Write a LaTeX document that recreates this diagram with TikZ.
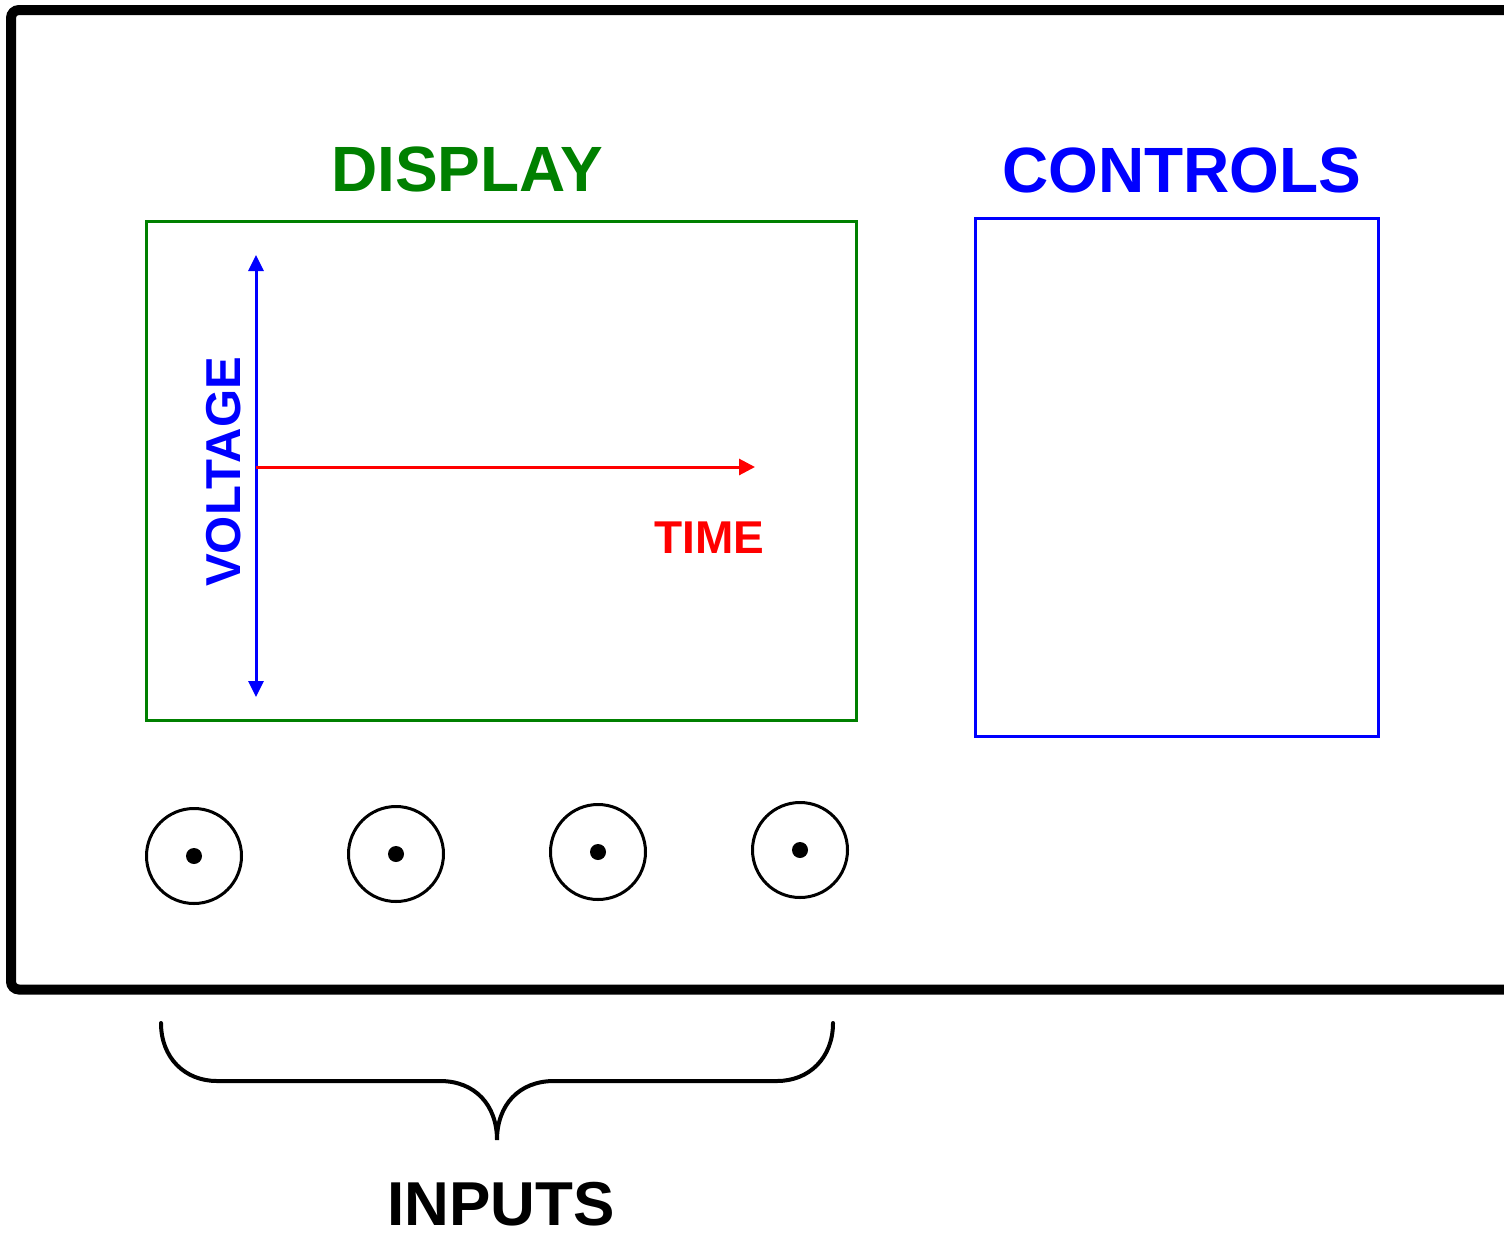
\documentclass[tikz,border=0pt]{standalone}
\usepackage{fontspec}
\setmainfont{Liberation Sans}
\usetikzlibrary{arrows.meta}
\definecolor{dgreen}{RGB}{0,128,0}
\definecolor{pblue}{RGB}{0,0,255}
\definecolor{pred}{RGB}{255,0,0}
\tikzset{
  label64/.style={font=\fontsize{64}{64}\selectfont\bfseries, inner sep=0pt, anchor=base},
  label48/.style={font=\fontsize{48}{48}\selectfont\bfseries, inner sep=0pt, anchor=base},
  jack/.style={circle, draw=black, line width=3pt, minimum size=95pt, inner sep=0pt},
  jackdot/.style={circle, fill=black, minimum size=16pt, inner sep=0pt},
  panelbox/.style={draw, line width=3pt, inner sep=0pt, outer sep=0pt, anchor=north west},
}
\begin{document}
\begin{tikzpicture}[x=1pt,y=-1pt]
\useasboundingbox (0,0) rectangle (1504,1237);
\clip (0,0) rectangle (1504,1237);
\fill[white] (0,0) rectangle (1504,1237);
% outer case
\draw[line width=10pt, rounded corners=8pt] (1540,10) -- (11,10) -- (11,989.5) -- (1540,989.5);
% display
\node[panelbox, draw=dgreen, minimum width=710pt, minimum height=499pt] (display) at (146,221) {};
\node[label64, text=dgreen] (displaylbl) at (467,191) {DISPLAY};
% controls
\node[panelbox, draw=pblue, minimum width=403pt, minimum height=518pt] (controls) at (975,218) {};
\node[label64, text=pblue] (controlslbl) at (1182,192) {CONTROLS};
% axes
\coordinate (vtop) at (256,255);
\coordinate (vbot) at (256,697);
\coordinate (origin) at (256,467);
\coordinate (tend) at (755,467);
\draw[pblue, line width=3pt, {Triangle[length=16pt,width=15pt]}-{Triangle[length=16pt,width=15pt]}] (vbot) -- (vtop);
\draw[pred, line width=3pt, -{Triangle[length=16pt,width=16pt]}] (origin) -- (tend);
\node[label48, text=pblue, font=\fontsize{49}{49}\selectfont\bfseries, rotate=90] (voltage) at (240,472) {VOLTAGE};
\node[label48, text=pred, font=\fontsize{46}{46}\selectfont\bfseries] (time) at (709.5,553.5) {TIME};
% inputs
\foreach \i/\x/\y in {1/194/856, 2/396/854, 3/598/852, 4/800/850} {
  \node[jack] (jack\i) at (\x,\y) {};
  \node[jackdot] (dot\i) at (\x,\y) {};
}
% brace
\coordinate (bl) at (161,1023);
\coordinate (br) at (833,1023);
\coordinate (btip) at (497,1140);
\draw[line width=4pt, line cap=round]
  (bl) .. controls (161,1058) and (185,1081) .. (217,1081)
  -- (440,1081) .. controls (475,1081) and (497,1105) .. (btip)
  .. controls (497,1105) and (519,1081) .. (554,1081)
  -- (777,1081) .. controls (809,1081) and (833,1058) .. (br);
\node[label64, font=\fontsize{62}{62}\selectfont\bfseries] (inputs) at (501,1225) {INPUTS};
\end{tikzpicture}
\end{document}
